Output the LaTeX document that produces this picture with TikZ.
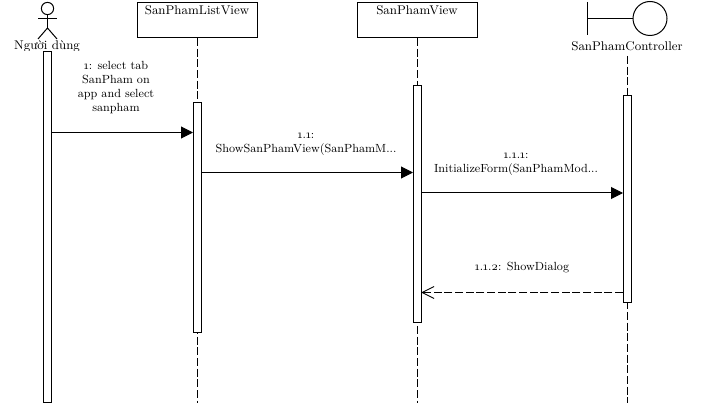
\documentclass[tikz,border=0pt]{standalone}
\usepackage{fontspec}
\setmainfont{Latin Modern Roman}[Numbers=OldStyle]
\usetikzlibrary{arrows.meta}
\tikzset{
  x=0.75pt,y=-0.75pt,
  line/.style={draw=black,line width=0.75pt},
  headbox/.style={line,fill=white,minimum width=90pt,minimum height=26.25pt,inner sep=0pt,outer sep=0pt},
  headtext/.style={font=\fontsize{9.45pt}{10pt}\selectfont,inner sep=0pt,anchor=base},
  acti/.style={line,fill=white,minimum width=6pt,inner sep=0pt,outer sep=0pt},
  life/.style={line,dash pattern=on 6pt off 2pt},
  msg/.style={font=\fontsize{8.85pt}{10.5pt}\selectfont,inner sep=0pt,anchor=base},
  sync/.style={line,-{Triangle[length=9pt,width=9pt]}},
  reply/.style={line,dash pattern=on 6pt off 2pt,-{Straight Barb[length=9pt,width=9pt]}},
}
\begin{document}
\begin{tikzpicture}
\useasboundingbox (0,-1) rectangle (711,405);
\fill[white] (0,-1) rectangle (711,405);
% actor
\node[line,circle,minimum size=9.2pt,inner sep=0pt] (head) at (47.5,7.5) {};
\coordinate (hip) at (47.5,27);
\coordinate (armL) at (38,18);
\coordinate (armR) at (57,18);
\coordinate (footL) at (38,38);
\coordinate (footR) at (57,38);
\draw[line] (head) -- (hip);
\draw[line] (armL) -- (armR);
\draw[line] (footL) -- (hip) -- (footR);
\begin{scope}
\clip (0,38) rectangle (100,49.5);
\node[headtext] (actorlabel) at (47,49) {Người dùng};
\end{scope}
% heads
\node[headbox] (h2) at (197,19.5) {};
\node[headtext] at (197,14) {SanPhamListView};
\node[headbox] (h3) at (417,19.5) {};
\node[headtext] at (417,14) {SanPhamView};
% boundary
\node[line,circle,minimum size=25.5pt,inner sep=0pt,outer sep=0pt] (ctrl) at (650,17.5) {};
\coordinate (bt) at (587,1);
\coordinate (bb) at (587,34);
\coordinate (bm) at (587,17.5);
\draw[line] (bt) -- (bb);
\draw[line] (bm) -- (ctrl);
\node[headtext] (h4) at (627,50) {SanPhamController};
% lifelines
\coordinate (e1) at (47,402);
\coordinate (e2) at (197,402);
\coordinate (e3) at (417,402);
\coordinate (e4) at (627,402);
\coordinate (s4) at (627,55);
\draw[life] (h2.south) -- (e2);
\draw[life] (h3.south) -- (e3);
\draw[life] (s4) -- (e4);
% activations
\node[acti,minimum height=262.5pt] (a1) at (47,226) {};
\node[acti,minimum height=172.5pt] (a2) at (197,217) {};
\node[acti,minimum height=177.75pt] (a3) at (417,203.5) {};
\node[acti,minimum height=155.25pt] (a4) at (627,198.5) {};
% messages
\draw[sync] (a1.east |- 0,131.5) -- (a2.west |- 0,131.5);
\draw[sync] (a2.east |- 0,171.5) -- (a3.west |- 0,171.5);
\draw[sync] (a3.east |- 0,192) -- (a4.west |- 0,192);
\draw[reply] (a4.west |- 0,291.5) -- (a3.east |- 0,291.5);
% labels
\node[msg] at (116,69) {1: select tab};
\node[msg] at (116,83) {SanPham on};
\node[msg] at (116,97) {app and select};
\node[msg] at (116,111) {sanpham};
\node[msg] at (306,138) {1.1:};
\node[msg] at (306,152) {ShowSanPhamView(SanPhamM...};
\node[msg] at (516,158) {1.1.1:};
\node[msg] at (516,172) {InitializeForm(SanPhamMod...};
\node[msg] at (522,270) {1.1.2: ShowDialog};
\end{tikzpicture}
\end{document}
